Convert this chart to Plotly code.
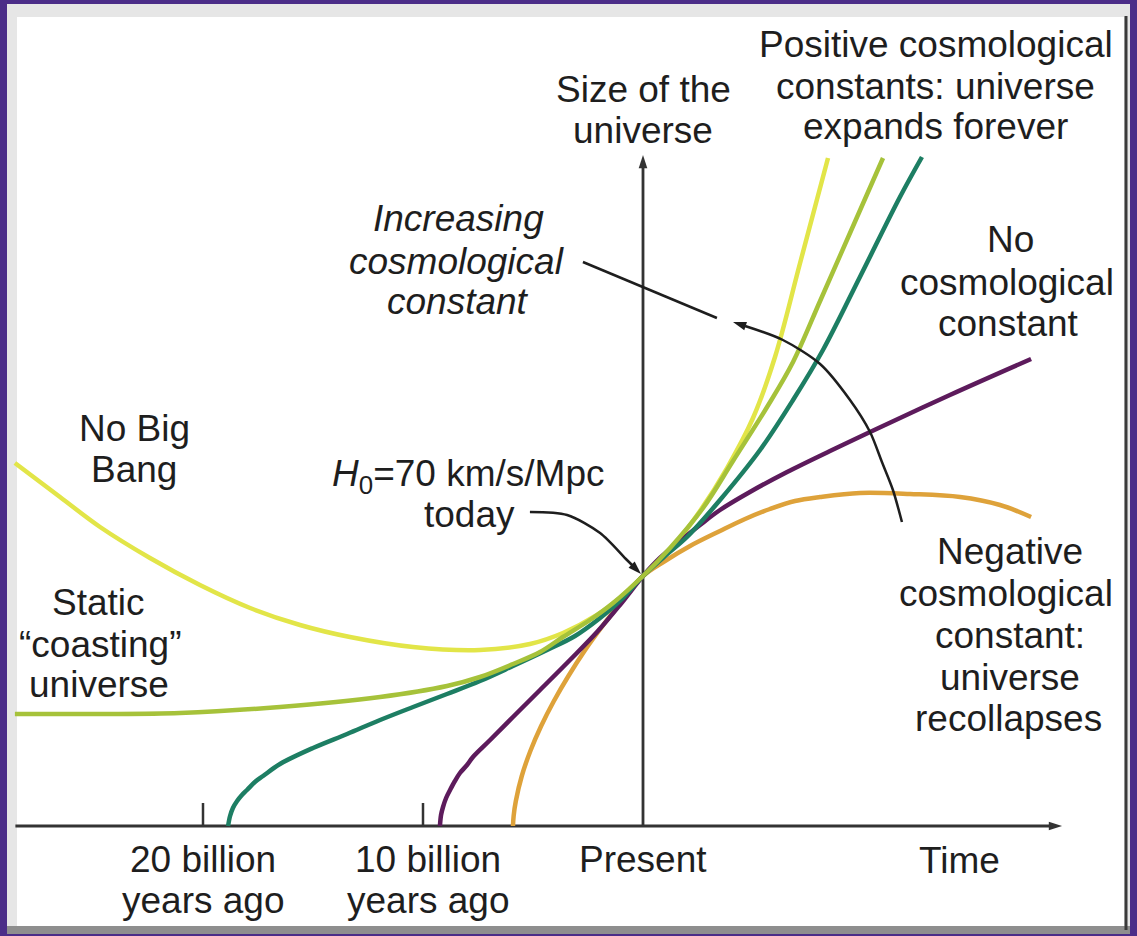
import plotly.graph_objects as go

W, H = 1137, 936

# Time: billions of years relative to the present (negative = past)
# Size: size of the universe relative to today (today = 1)
t_no_big_bang = [-28.55, -26.5, -24.68, -22.41, -20.14, -17.86, -15.59, -13.32, -10.45, -7.41,
                 -5.14, -3.64, -2.09, -1.05, 0.0, 1.23, 2.59, 3.82, 5.0, 6.0, 7.14, 8.41]
s_no_big_bang = [1.452, 1.316, 1.196, 1.072, 0.964, 0.872, 0.804, 0.756, 0.716, 0.704,
                 0.728, 0.772, 0.844, 0.912, 1.0, 1.104, 1.26, 1.432, 1.632, 1.876, 2.252, 2.672]

t_coasting = [-28.55, -24.68, -21.05, -16.5, -11.95, -8.91, -7.41, -5.91, -4.68, -3.64, -2.41,
              -1.36, 0.0, 1.23, 2.73, 4.09, 5.64, 6.82, 8.05, 9.41, 10.91]
s_coasting = [0.448, 0.448, 0.452, 0.476, 0.516, 0.56, 0.596, 0.648, 0.696, 0.756, 0.824,
              0.892, 1.0, 1.112, 1.272, 1.46, 1.676, 1.856, 2.1, 2.372, 2.672]

t_positive = [-18.86, -18.77, -18.64, -18.45, -18.23, -18.0, -17.64, -17.27, -16.5, -15.0,
              -13.45, -11.95, -10.45, -8.91, -7.41, -5.91, -4.36, -3.09, -1.95, -1.05, 0.0,
              1.0, 2.0, 3.5, 5.32, 6.82, 8.18, 9.86, 11.68, 12.68]
s_positive = [0.0, 0.04, 0.072, 0.1, 0.124, 0.144, 0.176, 0.2, 0.248, 0.312,
              0.368, 0.424, 0.476, 0.528, 0.58, 0.64, 0.704, 0.76, 0.832, 0.9, 1.0,
              1.08, 1.156, 1.304, 1.504, 1.704, 1.904, 2.196, 2.516, 2.676]

t_no_lambda = [-9.23, -9.18, -9.09, -8.95, -8.77, -8.55, -8.32, -8.0, -7.73, -6.95, -5.91,
               -4.68, -3.32, -2.09, -1.05, 0.0, 0.77, 1.68, 2.59, 3.5, 4.86, 6.55, 8.5,
               10.32, 13.95, 17.64]
s_no_lambda = [0.0, 0.044, 0.076, 0.112, 0.144, 0.18, 0.212, 0.244, 0.276, 0.344, 0.436,
               0.544, 0.664, 0.776, 0.884, 1.0, 1.072, 1.14, 1.204, 1.264, 1.336, 1.416, 1.5,
               1.576, 1.724, 1.868]

t_negative = [-5.91, -5.88, -5.78, -5.51, -5.12, -4.63, -4.05, -3.39, -2.66, -1.84, -0.95,
              0.0, 1.0, 2.14, 3.5, 4.64, 5.77, 6.91, 8.05, 9.86, 12.14, 14.41, 16.23, 17.64]
s_negative = [0.0, 0.04, 0.1, 0.2, 0.3, 0.4, 0.5, 0.6, 0.7, 0.8, 0.9,
              1.0, 1.06, 1.12, 1.18, 1.228, 1.268, 1.3, 1.316, 1.332, 1.328, 1.316, 1.284, 1.236]

tick_times = [-20, -10]

# annotation guide paths (time, size)
arc_t = [11.77, 11.36, 10.86, 10.32, 9.41, 8.05, 6.36, 4.64]
arc_s = [1.216, 1.344, 1.456, 1.576, 1.704, 1.848, 1.944, 2.0]
lead_t = [-2.73, 3.36]
lead_s = [2.256, 2.032]
today_t = [-5.14, -3.45, -1.95, -0.73, -0.09]
today_s = [1.256, 1.244, 1.172, 1.064, 1.008]

YELLOW = "#e2e548"
LIME = "#a6c23a"
TEAL = "#1d7e63"
PURPLE = "#5d1b5c"
ORANGE = "#dea23a"
INK = "#1e1e1e"
AXIS = "#333333"
FONT = "Liberation Sans, Arial, sans-serif"

fig = go.Figure()


def curve(t, s, color, width=4.5, smoothing=1.0):
    fig.add_trace(go.Scatter(x=t, y=s, mode="lines",
                             line=dict(color=color, width=width, shape="spline", smoothing=smoothing),
                             hoverinfo="skip", showlegend=False))


def head(t, s, angle, color, size=13):
    fig.add_trace(go.Scatter(x=[t], y=[s], mode="markers",
                             marker=dict(symbol="arrow", size=size, angle=angle, color=color,
                                         line=dict(width=0)),
                             hoverinfo="skip", showlegend=False))


# axes
x_lo, x_hi = -643 / 22, (W - 643) / 22
y_lo, y_hi = -110 / 250, 826 / 250
fig.add_trace(go.Scatter(x=[x_lo + 0.7, 18.6], y=[0, 0], mode="lines",
                         line=dict(color=AXIS, width=3.2), hoverinfo="skip", showlegend=False))
fig.add_trace(go.Scatter(x=[0, 0], y=[0, 2.64], mode="lines",
                         line=dict(color=AXIS, width=2.8), hoverinfo="skip", showlegend=False))
head(19.05, 0, 90, AXIS, 14)
head(0, 2.684, 0, AXIS, 14)

curve(t_no_big_bang, s_no_big_bang, YELLOW)
curve(t_negative, s_negative, ORANGE)
curve(t_no_lambda, s_no_lambda, PURPLE)
curve(t_positive, s_positive, TEAL)
curve(t_coasting, s_coasting, LIME)

# guide lines with arrowheads
curve(arc_t, arc_s, INK, 2.5, 0.8)
curve(lead_t, lead_s, INK, 2.5, 0.8)
curve(today_t[:-1] + [today_t[-1] - 0.2], today_s[:-1] + [today_s[-1] + 0.018], INK, 2.5, 0.8)
head(4.09, 2.016, -71.6, INK, 14)
head(today_t[-1], today_s[-1], 135, INK, 14)


def px(x):
    return x / W


def py(y):
    return 1 - y / H


shapes = []
# panel
shapes.append(dict(type="rect", xref="paper", yref="paper", x0=px(7), x1=px(1130), y0=py(934), y1=py(4),
                   fillcolor="#e6e6e6", line=dict(width=0), layer="below"))
shapes.append(dict(type="rect", xref="paper", yref="paper", x0=px(7), x1=px(1130), y0=py(934), y1=py(926),
                   fillcolor="#8e8e8e", line=dict(width=0), layer="below"))
shapes.append(dict(type="rect", xref="paper", yref="paper", x0=px(17), x1=px(1124), y0=py(926), y1=py(17),
                   fillcolor="#ffffff", line=dict(width=0), layer="below"))
shapes.append(dict(type="line", xref="paper", yref="paper", x0=px(1126), x1=px(1126), y0=py(930), y1=py(16),
                   line=dict(color="#3a3a3a", width=3), layer="below"))

# ticks
for tt in tick_times:
    shapes.append(dict(type="line", xref="x", yref="y", x0=tt, x1=tt, y0=0, y1=0.092,
                       line=dict(color=AXIS, width=2.5), layer="above"))

labels = [
    ("Positive cosmological", 936, 44),
    ("constants: universe", 936, 86),
    ("expands forever", 936, 127),
    ("Size of the", 643, 90),
    ("universe", 643, 131),
    ("<i>Increasing</i>", 458, 218),
    ("<i>cosmological</i>", 457, 261),
    ("<i>constant</i>", 458, 302),
    ("No", 1010, 240),
    ("cosmological", 1007, 282),
    ("constant", 1008, 323),
    ("No Big", 134, 429),
    ("Bang", 134, 469),
    ("<i>H</i><sub>0</sub>=70 km/s/Mpc", 468, 476),
    ("today", 469, 514),
    ("Static", 98, 602),
    ("\u201ccoasting\u201d", 100, 644),
    ("universe", 99, 684),
    ("Negative", 1010, 551),
    ("cosmological", 1006, 593),
    ("constant:", 1010, 635),
    ("universe", 1010, 677),
    ("recollapses", 1008, 718),
    ("20 billion", 203, 859),
    ("years ago", 203, 900),
    ("10 billion", 428, 859),
    ("years ago", 428, 900),
    ("Present", 643, 859),
    ("Time", 959, 860),
]
annotations = []
for text, cx, cy in labels:
    annotations.append(dict(x=px(cx), y=py(cy), xref="paper", yref="paper", text=text,
                            showarrow=False, xanchor="center", yanchor="middle",
                            font=dict(family=FONT, size=37, color=INK)))

fig.update_layout(
    width=W, height=H, autosize=False,
    margin=dict(l=0, r=0, t=0, b=0, pad=0),
    paper_bgcolor="#4b2d88", plot_bgcolor="#4b2d88",
    xaxis=dict(range=[x_lo, x_hi], visible=False, fixedrange=True),
    yaxis=dict(range=[y_lo, y_hi], visible=False, fixedrange=True),
    shapes=shapes, annotations=annotations, showlegend=False,
)

fig.write_html("out.html", config={"displayModeBar": False},
               post_script="document.body.style.margin='0px';document.body.style.overflow='hidden';")
